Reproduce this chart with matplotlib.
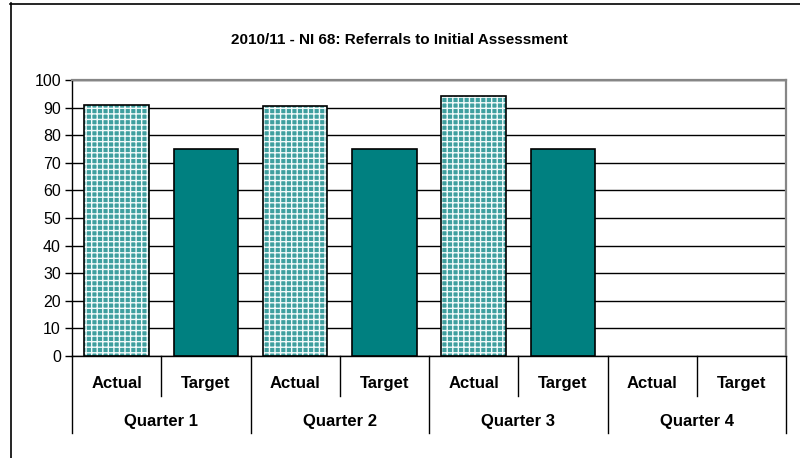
import matplotlib
matplotlib.use("Agg")
import matplotlib.pyplot as plt
import matplotlib.transforms as mtransforms
from matplotlib.lines import Line2D

plt.rcParams['font.family'] = ['Liberation Sans', 'DejaVu Sans']
plt.rcParams['hatch.linewidth'] = 1.0

title = "2010/11 - NI 68: Referrals to Initial Assessment"
quarters = ["Quarter 1", "Quarter 2", "Quarter 3", "Quarter 4"]
sub_labels = ["Actual", "Target"]
actual = [90.8, 90.4, 94.2, None]
target = [75, 75, 75, None]
yticks = [0, 10, 20, 30, 40, 50, 60, 70, 80, 90, 100]

fig = plt.figure(figsize=(8, 4.58), dpi=100)
ax = fig.add_axes([72/800, 1-356/458, (786-72)/800, (356-80)/458])

teal = '#008080'
bw = 0.72
for i in range(len(quarters)):
    xa = 2*i
    xt = 2*i + 1
    if actual[i] is not None:
        ax.bar(xa, actual[i], width=bw, color='#3f9f9f', edgecolor='#f2fafa',
               hatch='+++', linewidth=0, zorder=3)
        ax.bar(xa, actual[i], width=bw, fill=False, edgecolor='black',
               linewidth=1.2, zorder=4)
    if target[i] is not None:
        ax.bar(xt, target[i], width=bw, color=teal, edgecolor='black',
               linewidth=1.2, zorder=3)

ax.set_xlim(-0.5, 2*len(quarters)-0.5)
ax.set_ylim(0, 100)
ax.set_yticks(yticks)
ax.set_yticklabels([str(v) for v in yticks], fontsize=11.5)
ax.tick_params(axis='y', direction='out', length=5, width=1, pad=3)
ax.set_xticks([])
ax.grid(axis='y', color='black', linewidth=1, zorder=1)
ax.set_axisbelow(True)
for s in ['top', 'right']:
    ax.spines[s].set_color('#868686')
    ax.spines[s].set_linewidth(1.6)
for s in ['left', 'bottom']:
    ax.spines[s].set_color('black')
    ax.spines[s].set_linewidth(1)

trans = mtransforms.blended_transform_factory(ax.transData, ax.transAxes)
# category labels
for i, q in enumerate(quarters):
    for j, lab in enumerate(sub_labels):
        ax.text(2*i + j, -0.098, lab, transform=trans, ha='center', va='center',
                fontsize=12, fontweight='bold')
    ax.text(2*i + 0.5, -0.236, q, transform=trans, ha='center', va='center',
            fontsize=12, fontweight='bold')
    # separator inside quarter
    ax.add_line(Line2D([2*i + 0.5, 2*i + 0.5], [0, -0.145], transform=trans,
                       color='black', linewidth=1, clip_on=False))
# quarter separators
for k in range(len(quarters) + 1):
    xk = 2*k - 0.5
    ax.add_line(Line2D([xk, xk], [0, -0.279], transform=trans,
                       color='black', linewidth=1, clip_on=False))

fig.text(399/800, 1-40/458, title, ha='center', va='center', fontsize=11,
         fontweight='bold')

# outer chart border (left and top visible)
fig.add_artist(Line2D([10.5/800, 10.5/800], [0, 1-3/458], transform=fig.transFigure,
                      color='black', linewidth=1.2))
fig.add_artist(Line2D([10/800, 1], [1-3.5/458, 1-3.5/458], transform=fig.transFigure,
                      color='black', linewidth=1.2))

fig.savefig('out.png', dpi=100)
